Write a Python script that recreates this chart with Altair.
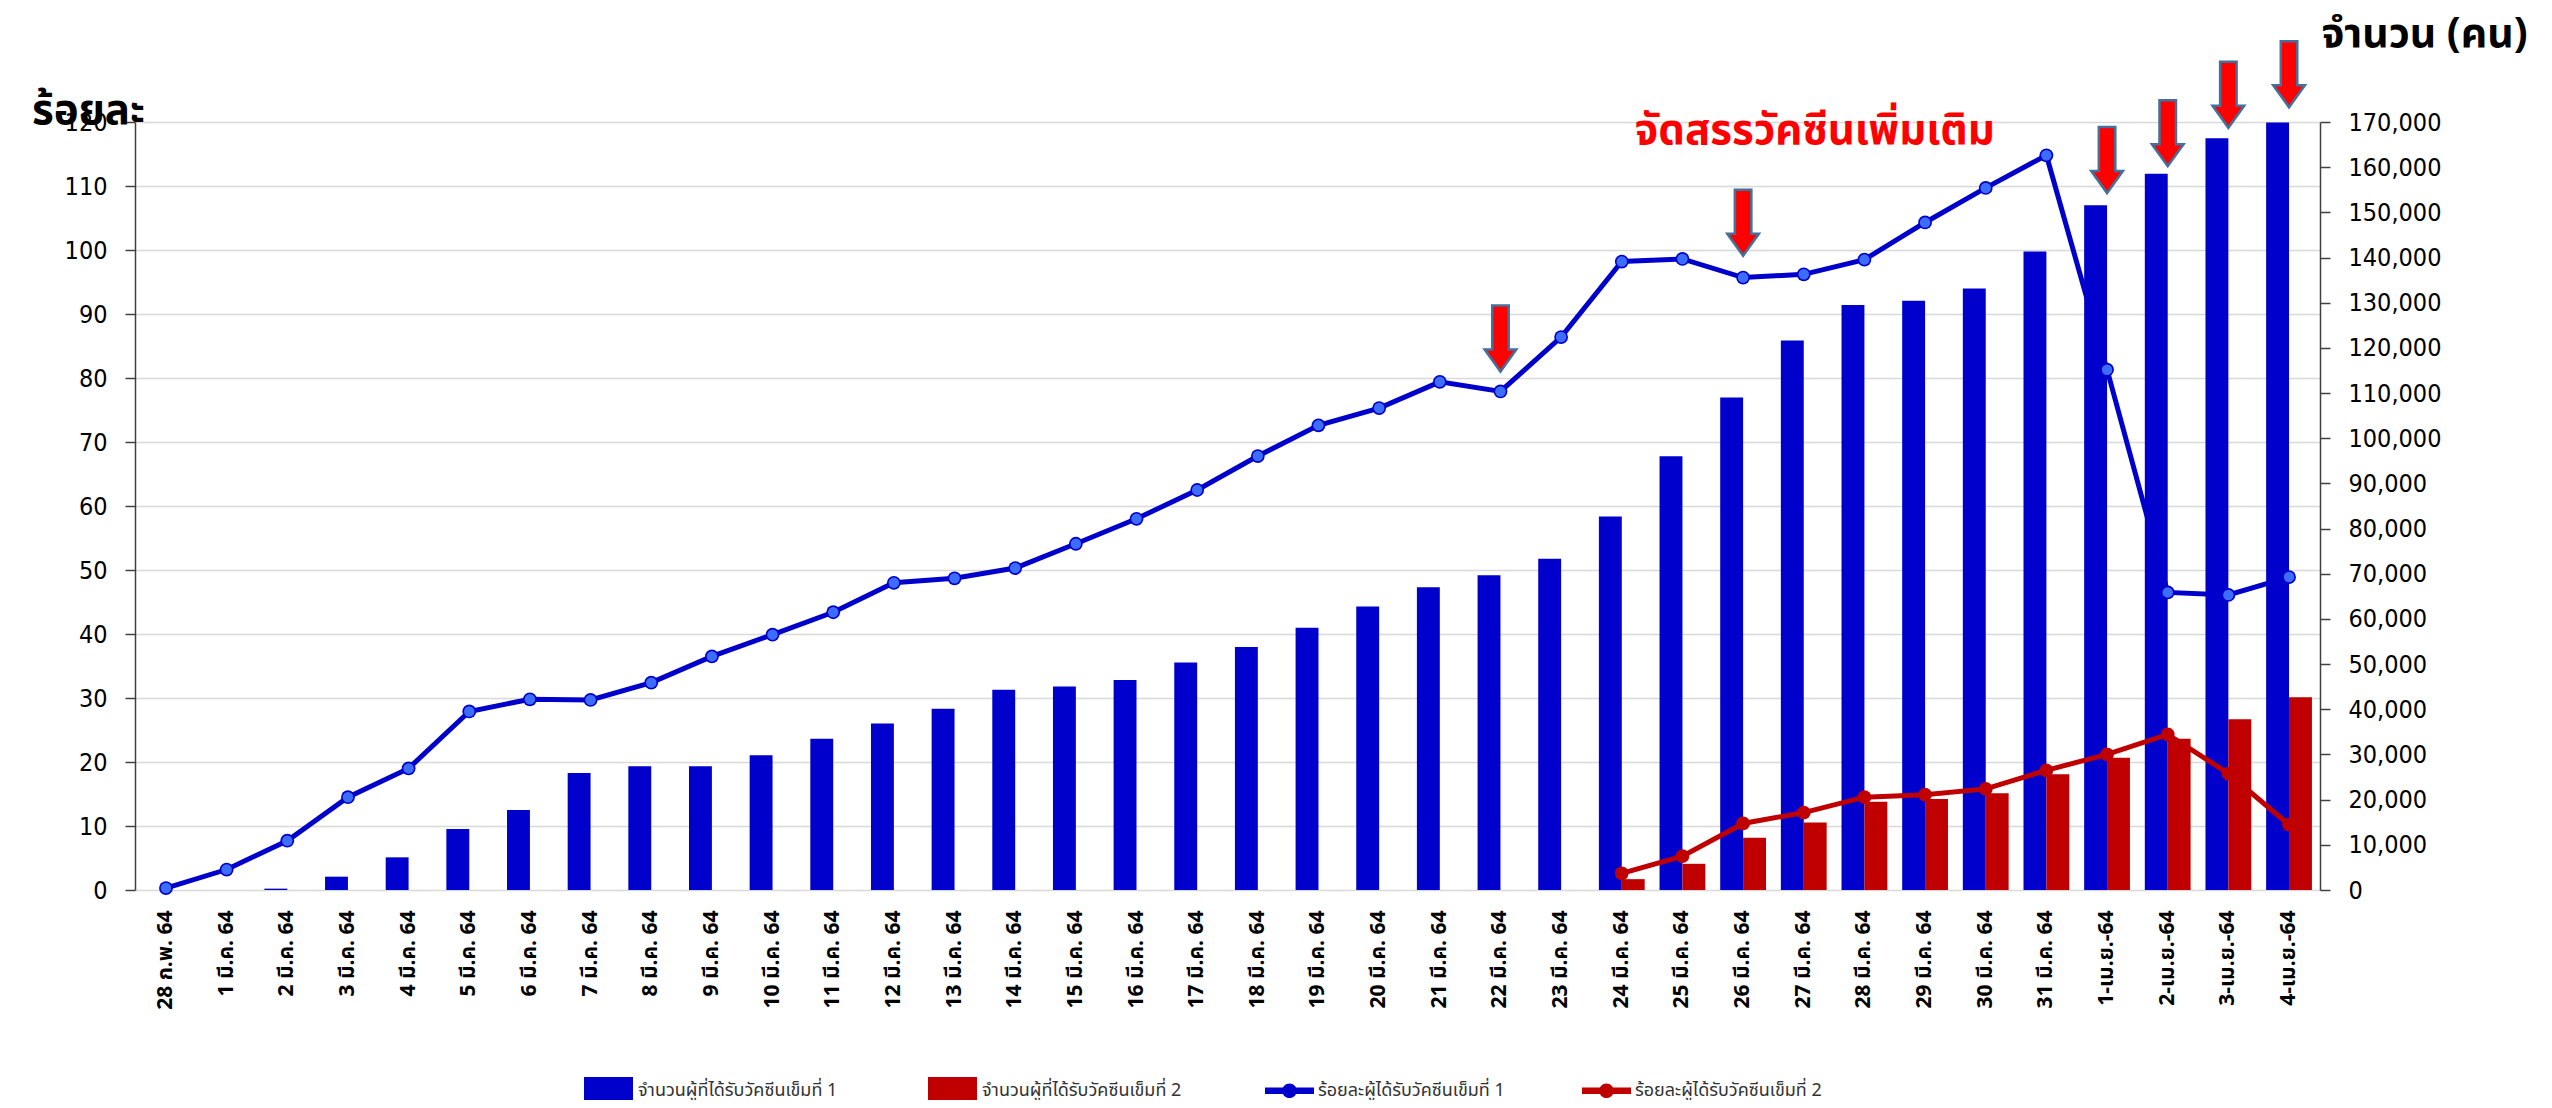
import altair as alt
import pandas as pd

# ---------------- data ----------------
dates = (["28 ก.พ. 64"]
         + [f"{d} มี.ค. 64" for d in range(1, 32)]
         + [f"{d}-เม.ย.-64" for d in range(1, 5)])

dose1_count = [0, 0, 300, 2950, 7230, 13500, 17700, 25880, 27370, 27370,
               29800, 33480, 36880, 40110, 44330, 45040, 46510, 50360, 53810, 58050,
               62780, 67010, 69670, 73320, 82680, 95990, 109000, 121640, 129470, 130420,
               133140, 141330, 151590, 158560, 166390, 169900]

dose2_count = [None] * 24 + [2400, 5800, 11550, 14960, 19560, 20150, 21400, 25620,
                             29260, 33480, 37780, 42670]

dose1_pct = [0.3, 3.2, 7.7, 14.5, 19.0, 27.9, 29.8, 29.7, 32.4, 36.5,
             39.9, 43.4, 48.0, 48.7, 50.3, 54.1, 58.0, 62.5, 67.8, 72.6,
             75.3, 79.4, 77.9, 86.4, 98.2, 98.6, 95.7, 96.2, 98.5, 104.3,
             109.7, 114.8, 81.3, 46.5, 46.1, 48.9]

dose2_pct = [None] * 24 + [2.6, 5.3, 10.4, 12.1, 14.5, 14.9, 15.8, 18.7,
                           21.2, 24.3, 18.2, 10.2]

bar_names = ["จำนวนผู้ที่ได้รับวัคซีนเข็มที่ 1", "จำนวนผู้ที่ได้รับวัคซีนเข็มที่ 2"]
line_names = ["ร้อยละผู้ได้รับวัคซีนเข็มที่ 1", "ร้อยละผู้ได้รับวัคซีนเข็มที่ 2"]

arrow_dates = ["22 มี.ค. 64", "26 มี.ค. 64", "1-เม.ย.-64", "2-เม.ย.-64", "3-เม.ย.-64", "4-เม.ย.-64"]
arrow_tips = [81.0, 99.1, 108.9, 113.1, 119.1, 122.3]

annot_text = ["จัดสรรวัคซีนเพิ่มเติม"]
annot_date = ["27 มี.ค. 64"]
annot_level = [118.6]

left_title = "ร้อยละ"
right_title = "จำนวน (คน)"

# ---------------- tables ----------------
bar_rows = []
for d, a, b in zip(dates, dose1_count, dose2_count):
    bar_rows.append({"date": d, "bar_series": bar_names[0], "count": a})
    if b is not None:
        bar_rows.append({"date": d, "bar_series": bar_names[1], "count": b})
bars_df = pd.DataFrame(bar_rows)

line_rows = []
for d, a, b in zip(dates, dose1_pct, dose2_pct):
    line_rows.append({"date": d, "line_series": line_names[0], "pct": a})
    if b is not None:
        line_rows.append({"date": d, "line_series": line_names[1], "pct": b})
lines_df = pd.DataFrame(line_rows)

arrows_df = pd.DataFrame({"date": arrow_dates, "pct": arrow_tips})
annot_df = pd.DataFrame({"date": annot_date, "pct": annot_level, "label": annot_text})

# ---------------- styling ----------------
THAI = "Tahoma, 'Noto Sans Thai', 'Noto Sans Thai UI', 'Noto Sans', 'DejaVu Sans', sans-serif"
NUM = "'DejaVu Sans Condensed', 'DejaVu Sans', sans-serif"
BLUE = "#0000CC"
RED = "#C00000"

W, H = 2185, 768

X = alt.X("date:N", sort=dates,
          scale=alt.Scale(domain=dates, paddingInner=0.245, paddingOuter=0.133),
          axis=alt.Axis(title=None, labelAngle=-90, labelFont=THAI, labelFontSize=21,
                        labelFontWeight="bold", labelColor="#000000", ticks=False,
                        domain=False, labelPadding=20, labelLimit=300))

Ypct = alt.Y("pct:Q",
             scale=alt.Scale(domain=[0, 120], nice=False, zero=True),
             axis=alt.Axis(orient="left", values=list(range(0, 121, 10)), grid=True,
                           gridColor="#D9D9D9", gridWidth=1.5,
                           domainColor="#404040", domainWidth=1.5,
                           tickColor="#404040", tickSize=10, tickWidth=1.5,
                           labelFont=NUM, labelFontSize=25, labelColor="#000000",
                           labelPadding=18,
                           title=left_title, titleAngle=0, titleX=-47, titleY=-12,
                           titleAlign="center", titleBaseline="middle",
                           titleFont=THAI, titleFontSize=42, titleFontWeight="bold",
                           titleColor="#000000"))

Ycount = alt.Y("count:Q",
               scale=alt.Scale(domain=[0, 170000], nice=False),
               axis=alt.Axis(orient="right", values=list(range(0, 170001, 10000)),
                             format=",.0f", grid=False,
                             domainColor="#404040", domainWidth=1.5,
                             tickColor="#404040", tickSize=10, tickWidth=1.5,
                             labelFont=NUM, labelFontSize=25, labelColor="#000000",
                             labelPadding=18,
                             title=right_title, titleAngle=0, titleX=104, titleY=-88,
                             titleAlign="center", titleBaseline="middle",
                             titleFont=THAI, titleFontSize=41, titleFontWeight="bold",
                             titleColor="#000000"))

rect_path = "M-1,-0.55H1V0.55H-1Z"
line_sym = ("M-1,-0.13H1V0.13H-1Z "
            "M0.3,0A0.3,0.3 0 1,1 -0.3,0A0.3,0.3 0 1,1 0.3,0Z")
arrow_path = "M-0.25,-2L0.25,-2L0.25,-0.667L0.48,-0.667L0,0L-0.48,-0.667L-0.25,-0.667Z"

bars = alt.Chart(bars_df).mark_bar().encode(
    x=X,
    xOffset=alt.XOffset("bar_series:N", sort=bar_names,
                        scale=alt.Scale(domain=bar_names, paddingInner=0, paddingOuter=0)),
    y=Ycount,
    color=alt.Color("bar_series:N",
                    scale=alt.Scale(domain=bar_names, range=[BLUE, RED]),
                    legend=alt.Legend(title=None, orient="none", legendX=449, legendY=944,
                                      direction="horizontal", symbolType=rect_path,
                                      symbolSize=2401, symbolStrokeWidth=0,
                                      labelFont=THAI, labelFontSize=18, labelColor="#333333",
                                      labelOffset=5, labelLimit=500, columnPadding=90,
                                      padding=0)),
)

line1 = alt.Chart(lines_df).transform_filter(
    alt.datum.line_series == line_names[0]
).mark_line(strokeWidth=5, color=BLUE).encode(x=X, y=Ypct)

line2 = alt.Chart(lines_df).transform_filter(
    alt.datum.line_series == line_names[1]
).mark_line(strokeWidth=5, color=RED).encode(x=X, y=Ypct)

points = alt.Chart(lines_df).mark_point(filled=True, size=190, opacity=1).encode(
    x=X, y=Ypct,
    fill=alt.Fill("line_series:N",
                  scale=alt.Scale(domain=line_names, range=[BLUE, RED]),
                  legend=alt.Legend(title=None, orient="none", legendX=1130, legendY=944,
                                    direction="horizontal", symbolType=line_sym,
                                    symbolSize=2401, symbolStrokeWidth=0,
                                    labelFont=THAI, labelFontSize=18, labelColor="#333333",
                                    labelOffset=4, labelLimit=500, columnPadding=77,
                                    padding=0)),
)

inner = alt.Chart(lines_df).transform_filter(
    alt.datum.line_series == line_names[0]
).mark_point(filled=True, size=110, opacity=1, color="#3D6DFF").encode(x=X, y=Ypct)

arrows = alt.Chart(arrows_df).mark_point(
    shape=arrow_path, size=4356, filled=True, opacity=1,
    fill="#FF0000", stroke="#41719C", strokeWidth=2.5
).encode(x=X, y=Ypct)

annot = alt.Chart(annot_df).mark_text(
    font=THAI, fontSize=42, fontWeight="bold", color="#FF0000",
    align="center", baseline="middle", dx=11
).encode(x=X, y=Ypct, text="label:N")

pct_layer = alt.layer(line1, line2, points, inner, arrows, annot)

chart = alt.layer(bars, pct_layer).resolve_scale(
    y="independent"
).properties(
    width=W, height=H,
    autosize=alt.AutoSizeParams(type="none"),
    padding={"left": 127, "top": 114, "right": 217, "bottom": 210},
    background="white",
).configure_view(stroke=None)

chart.save("out.html", embed_options={"renderer": "svg", "actions": False})
